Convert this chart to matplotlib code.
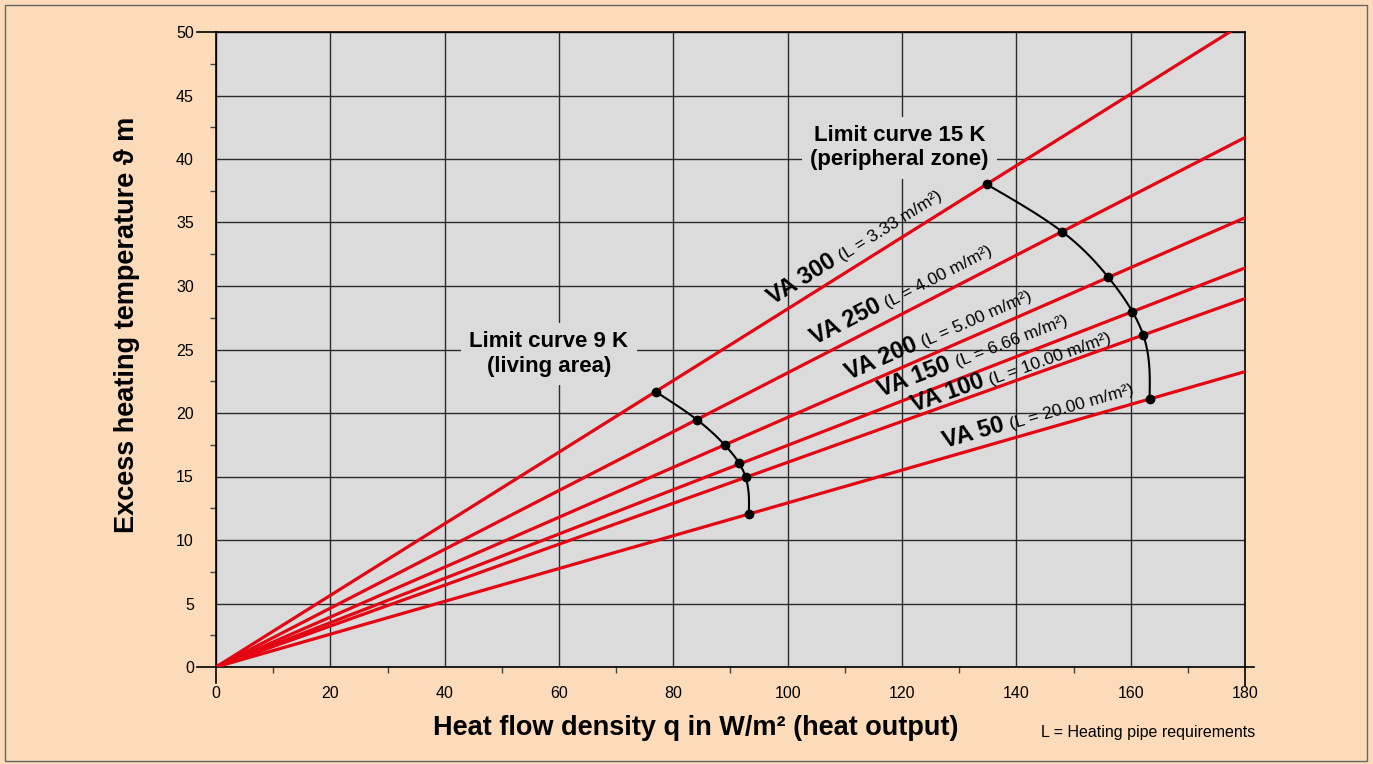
import numpy as np
import matplotlib
matplotlib.use("Agg")
import matplotlib.pyplot as plt
import matplotlib.transforms as mtrans
from matplotlib.lines import Line2D
from matplotlib.patches import Rectangle

plt.rcParams["font.family"] = ["Liberation Sans", "DejaVu Sans"]

# ---- data -------------------------------------------------------------
va_names = ["VA 300", "VA 250", "VA 200", "VA 150", "VA 100", "VA 50"]
pipe_req = ["3.33", "4.00", "5.00", "6.66", "10.00", "20.00"]

# limit curve 9 K (living area): heat flow density / excess temperature
q_9k = [76.9, 84.2, 89.0, 91.5, 92.65, 93.2]
t_9k = [21.68, 19.45, 17.48, 16.06, 14.94, 12.02]

# limit curve 15 K (peripheral zone)
q_15k = [134.8, 148.0, 156.1, 160.3, 162.2, 163.3]
t_15k = [38.01, 34.28, 30.68, 27.98, 26.14, 21.10]

x_ticks = list(range(0, 181, 20))
y_ticks = list(range(0, 51, 5))

# ---- styling ------------------------------------------------------------
W, H = 1373, 764
BG = "#FCDBBB"
PANEL = "#DBDBDB"
RED = "#E30613"

fig = plt.figure(figsize=(W / 100, H / 100), dpi=100, facecolor=BG)
ax = fig.add_axes([216 / W, 1 - 667 / H, (1245 - 216) / W, (667 - 32) / H])
ax.set_facecolor(PANEL)
ax.set_xlim(0, 180)
ax.set_ylim(0, 50)
ax.set_axisbelow(True)

ax.set_xticks(x_ticks)
ax.set_yticks(y_ticks)
ax.set_xticks(np.arange(10, 180, 20), minor=True)
ax.set_yticks(np.arange(2.5, 50, 5), minor=True)
ax.tick_params(which="major", length=0, labelsize=11.5)
ax.tick_params(axis="x", which="major", pad=14)
ax.tick_params(axis="y", which="major", pad=16)
ax.tick_params(which="minor", length=4, width=1.0, color="#444444", direction="out")
ax.grid(True, which="major", color="#2b2b2b", lw=1.0)
for sp in ax.spines.values():
    sp.set_color("black")
    sp.set_linewidth(1.2)


def fig_line(x0, y0, x1, y1):
    fig.add_artist(Line2D([x0 / W, x1 / W], [1 - y0 / H, 1 - y1 / H],
                          transform=fig.transFigure, color="black", lw=1.2))


# spine extensions forming crossing corners
fig_line(216, 667, 216, 683)
fig_line(197, 667, 216, 667)
fig_line(1245, 667, 1254, 667)
fig_line(1245, 667, 1245, 686)
fig_line(197, 32, 216, 32)

# ---- radial VA lines ----------------------------------------------------
slopes = [t / q for q, t in zip(q_15k, t_15k)]
for s in slopes:
    ax.axline((0, 0), slope=s, color=RED, lw=2.3, zorder=3)


def natural_spline(ts, qs, n=200):
    """Natural cubic spline q(t) through the given points."""
    order = np.argsort(ts)
    y = np.asarray(ts, float)[order]
    x = np.asarray(qs, float)[order]
    k = len(y)
    h = np.diff(y)
    A = np.zeros((k, k))
    b = np.zeros(k)
    A[0, 0] = A[-1, -1] = 1.0
    for i in range(1, k - 1):
        A[i, i - 1] = h[i - 1]
        A[i, i] = 2 * (h[i - 1] + h[i])
        A[i, i + 1] = h[i]
        b[i] = 6 * ((x[i + 1] - x[i]) / h[i] - (x[i] - x[i - 1]) / h[i - 1])
    M = np.linalg.solve(A, b)
    tt, qq = [], []
    for i in range(k - 1):
        yy = np.linspace(y[i], y[i + 1], n // (k - 1))
        hi = h[i]
        val = (M[i] * (y[i + 1] - yy) ** 3 / (6 * hi) + M[i + 1] * (yy - y[i]) ** 3 / (6 * hi)
               + (x[i] / hi - M[i] * hi / 6) * (y[i + 1] - yy)
               + (x[i + 1] / hi - M[i + 1] * hi / 6) * (yy - y[i]))
        tt.append(yy)
        qq.append(val)
    return np.concatenate(qq), np.concatenate(tt)


for qs, ts in ((q_9k, t_9k), (q_15k, t_15k)):
    cx, cy = natural_spline(ts, qs)
    ax.plot(cx, cy, color="black", lw=1.5, zorder=4)
    ax.plot(qs, ts, "o", color="black", ms=6, zorder=5)

# ---- limit curve captions --------------------------------------------
box = dict(facecolor=PANEL, edgecolor="none", pad=6)
ax.text(119.6, 40.9, "Limit curve 15 K\n(peripheral zone)", ha="center", va="center",
        fontsize=16, fontweight="bold", linespacing=1.2, bbox=box, zorder=2.5)
ax.text(58.2, 24.65, "Limit curve 9 K\n(living area)", ha="center", va="center",
        fontsize=16, fontweight="bold", linespacing=1.2, bbox=box, zorder=2.5)

# ---- labels along the VA lines -----------------------------------------
label_x = [98.4, 105.7, 111.4, 117.1, 122.4, 128.0]   # where each caption starts
label_gap = [11, 12, 10, 11, 4.5, 9]                   # pixels above its line
fig.canvas.draw()
renderer = fig.canvas.get_renderer()
ident = mtrans.IdentityTransform()
for name, L, s, x0, gap in zip(va_names, pipe_req, slopes, label_x, label_gap):
    p0 = ax.transData.transform((x0, s * x0))
    p1 = ax.transData.transform((x0 + 10, s * (x0 + 10)))
    u = (p1 - p0) / np.linalg.norm(p1 - p0)
    nvec = np.array([-u[1], u[0]])
    ang = np.degrees(np.arctan2(u[1], u[0]))
    base = p0 + nvec * gap
    tmp = fig.text(0, 0, name + " ", fontsize=17, fontweight="bold")
    w = tmp.get_window_extent(renderer).width
    tmp.remove()
    fig.text(base[0], base[1], name, transform=ident, fontsize=17, fontweight="bold",
             rotation=ang, rotation_mode="anchor", ha="left", va="baseline", zorder=6)
    b2 = base + u * (w - 1)
    fig.text(b2[0], b2[1], f"(L = {L} m/m\u00b2)", transform=ident, fontsize=12.5,
             rotation=ang, rotation_mode="anchor", ha="left", va="baseline", zorder=6)

# ---- axis titles and note ----------------------------------------------
fig.text(696 / W, 1 - 728 / H, "Heat flow density q in W/m\u00b2 (heat output)",
         ha="center", va="center", fontsize=19.5, fontweight="bold")
fig.text(127 / W, 1 - 325 / H, "Excess heating temperature \u03d1 m",
         ha="center", va="center", rotation=90, fontsize=19.5, fontweight="bold")
fig.text(1255 / W, 1 - 732 / H, "L = Heating pipe requirements",
         ha="right", va="center", fontsize=11.5)

# outer frame
fig.add_artist(Rectangle((5 / W, 3 / H), (1367 - 5) / W, (760 - 4) / H,
                         transform=fig.transFigure, fill=False, edgecolor="#666666", lw=1.0))

fig.savefig("out.png", dpi=100, facecolor=BG)
